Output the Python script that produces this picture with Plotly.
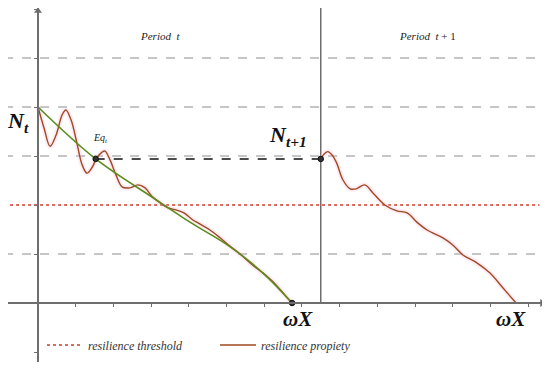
import plotly.graph_objects as go

# ---- data (axis units) ----
green_x = [0, 1.53, 3.15, 4.03, 5.09, 5.97, 6.74]
green_y = [4.0, 2.94, 2.10, 1.65, 1.15, 0.61, 0.0]

brown1_x = [0, 0.16, 0.32, 0.48, 0.64, 0.74, 0.88, 1.03, 1.17, 1.30, 1.43, 1.56, 1.70, 1.78,
            1.91, 2.07, 2.23, 2.44, 2.65, 2.84, 3.02, 3.24, 3.45, 3.66, 3.87, 4.08, 4.30,
            4.56, 4.83, 5.09, 5.36, 5.68, 5.97, 6.29, 6.55, 6.74]
brown1_y = [4.0, 3.57, 3.20, 3.43, 3.84, 3.94, 3.73, 3.27, 2.82, 2.65, 2.76, 2.96, 3.08, 3.10,
            2.92, 2.61, 2.37, 2.35, 2.41, 2.35, 2.18, 2.04, 1.94, 1.90, 1.84, 1.71, 1.61,
            1.49, 1.33, 1.16, 1.00, 0.78, 0.61, 0.39, 0.16, 0.0]

brown2_x = [7.50, 7.59, 7.69, 7.80, 7.92, 8.09, 8.28, 8.44, 8.67, 8.89, 9.20, 9.52, 9.79,
            10.05, 10.32, 10.74, 11.01, 11.27, 11.64, 11.99, 12.33, 12.68]
brown2_y = [2.94, 3.04, 3.09, 3.02, 2.86, 2.51, 2.33, 2.33, 2.41, 2.24, 2.00, 1.88, 1.84,
            1.65, 1.49, 1.33, 1.18, 0.98, 0.82, 0.61, 0.31, 0.0]

grid_levels = [1, 3, 4, 5]
threshold = 2
period_split = 7.5
eq_x, eq_y = 1.53, 2.94
omega_x = 6.74
x_min, x_max = -0.9, 13.3

BROWN = "#9e4a22"
GREEN = "#5a8c1c"
RED = "#cf3a2c"
GREY = "#8c8c8c"
AXIS = "#6e6e6e"
SERIF = "Liberation Serif"

# ---- geometry (page has an 8px body margin) ----
W, H = 542, 361
ml, mr, mt, mb = 0, 5, 0, 7
plot_w, plot_h = W - ml - mr, H - mt - mb
px_per_x, px_per_y = 37.7, 49.0
x0_px, y0_px = 30, 295
xr = [(ml - x0_px) / px_per_x, (W - mr - x0_px) / px_per_x]
yr = [(y0_px - (H - mb)) / px_per_y, (y0_px - mt) / px_per_y]

fig = go.Figure()

fig.add_trace(go.Scatter(x=[x_min, x_max], y=[threshold, threshold], mode="lines",
                         line=dict(color=RED, width=1.5, dash="dot"),
                         name="<i>resilience threshold</i>", hoverinfo="skip"))

for bx, by in [(brown1_x, brown1_y), (brown2_x, brown2_y)]:
    fig.add_trace(go.Scatter(x=bx, y=by, mode="lines",
                             line=dict(color="rgba(255,190,215,0.3)", width=5, shape="spline"),
                             showlegend=False, hoverinfo="skip"))

fig.add_trace(go.Scatter(x=brown1_x, y=brown1_y, mode="lines",
                         line=dict(color=BROWN, width=1.4, shape="spline", smoothing=1),
                         name="<i>resilience propiety</i>", hoverinfo="skip"))
fig.add_trace(go.Scatter(x=brown2_x, y=brown2_y, mode="lines",
                         line=dict(color=BROWN, width=1.4, shape="spline", smoothing=1),
                         showlegend=False, hoverinfo="skip"))

fig.add_trace(go.Scatter(x=green_x, y=green_y, mode="lines",
                         line=dict(color=GREEN, width=1.6, shape="spline", smoothing=1),
                         showlegend=False, hoverinfo="skip"))

fig.add_trace(go.Scatter(x=[eq_x, period_split], y=[eq_y, eq_y], mode="lines",
                         line=dict(color="#111111", width=1.5, dash="dash"),
                         showlegend=False, hoverinfo="skip"))

fig.add_trace(go.Scatter(x=[eq_x, period_split, omega_x], y=[eq_y, eq_y, 0], mode="markers",
                         marker=dict(color="#333333", size=5.5, line=dict(color="#111", width=1)),
                         showlegend=False, hoverinfo="skip"))

# axis arrowheads
fig.add_trace(go.Scatter(x=[xr[1] - 0.08, 0], y=[0, yr[1] - 0.06], mode="markers",
                         marker=dict(symbol=["triangle-right", "triangle-up"], size=7, color=AXIS),
                         cliponaxis=False, showlegend=False, hoverinfo="skip"))

shapes = []
for g in grid_levels:
    shapes.append(dict(type="line", xref="x", yref="y", x0=x_min, x1=x_max, y0=g, y1=g,
                       line=dict(color=GREY, width=1, dash="dash"), layer="below"))
shapes.append(dict(type="line", xref="x", yref="y", x0=period_split, x1=period_split, y0=0, y1=yr[1],
                   line=dict(color=AXIS, width=1.5), layer="below"))
fig.update_layout(shapes=shapes)

ann = []
ann.append(dict(x=3.24, y=5.45, text="<i>Period</i>  <i>t</i>", font=dict(size=11, family=SERIF, color="#222")))
ann.append(dict(x=10.34, y=5.45, text="<i>Period</i>  <i>t</i> + 1", font=dict(size=11, family=SERIF, color="#222")))
ann.append(dict(x=-0.53, y=3.69, text="<b><i>N</i></b><sub><b><i>t</i></b></sub>", font=dict(size=22, family=SERIF, color="#111")))
ann.append(dict(x=1.67, y=3.35, text="<i>Eq</i><sub><i>t</i></sub>", font=dict(size=10, family=SERIF, color="#222")))
ann.append(dict(x=6.62, y=3.40, text="<b><i>N</i></b><sub><b><i>t+1</i></b></sub>", font=dict(size=22, family=SERIF, color="#111")))
ann.append(dict(x=6.9, y=-0.33, text="<b><i>ωX</i></b>", font=dict(size=21, family=SERIF, color="#111")))
ann.append(dict(x=12.55, y=-0.33, text="<b><i>ωX</i></b>", font=dict(size=21, family=SERIF, color="#111")))
for a in ann:
    a.update(xref="x", yref="y", showarrow=False)
fig.update_layout(annotations=ann)

fig.update_layout(
    width=W, height=H, margin=dict(l=ml, r=mr, t=mt, b=mb),
    plot_bgcolor="white", paper_bgcolor="white",
    xaxis=dict(range=xr, showgrid=False, zeroline=False, showline=True, linecolor=AXIS, linewidth=1.5,
               ticks="outside", ticklen=3, tickcolor=AXIS, dtick=1, tick0=0, showticklabels=False,
               anchor="free", position=((H - mb) - y0_px) / plot_h, fixedrange=True),
    yaxis=dict(range=yr, showgrid=False, zeroline=False, showline=True, linecolor=AXIS, linewidth=1.5,
               ticks="outside", ticklen=3, tickcolor=AXIS, dtick=1, tick0=0, showticklabels=False,
               anchor="free", position=(x0_px - ml) / plot_w, fixedrange=True),
    legend=dict(orientation="h", x=(34 - ml) / plot_w, y=((H - mb) - 337) / plot_h,
                xanchor="left", yanchor="middle", font=dict(size=12, family=SERIF, color="#333"),
                bgcolor="rgba(0,0,0,0)", entrywidth=122, entrywidthmode="pixels", itemwidth=36),
)

fig.write_html("out.html")
